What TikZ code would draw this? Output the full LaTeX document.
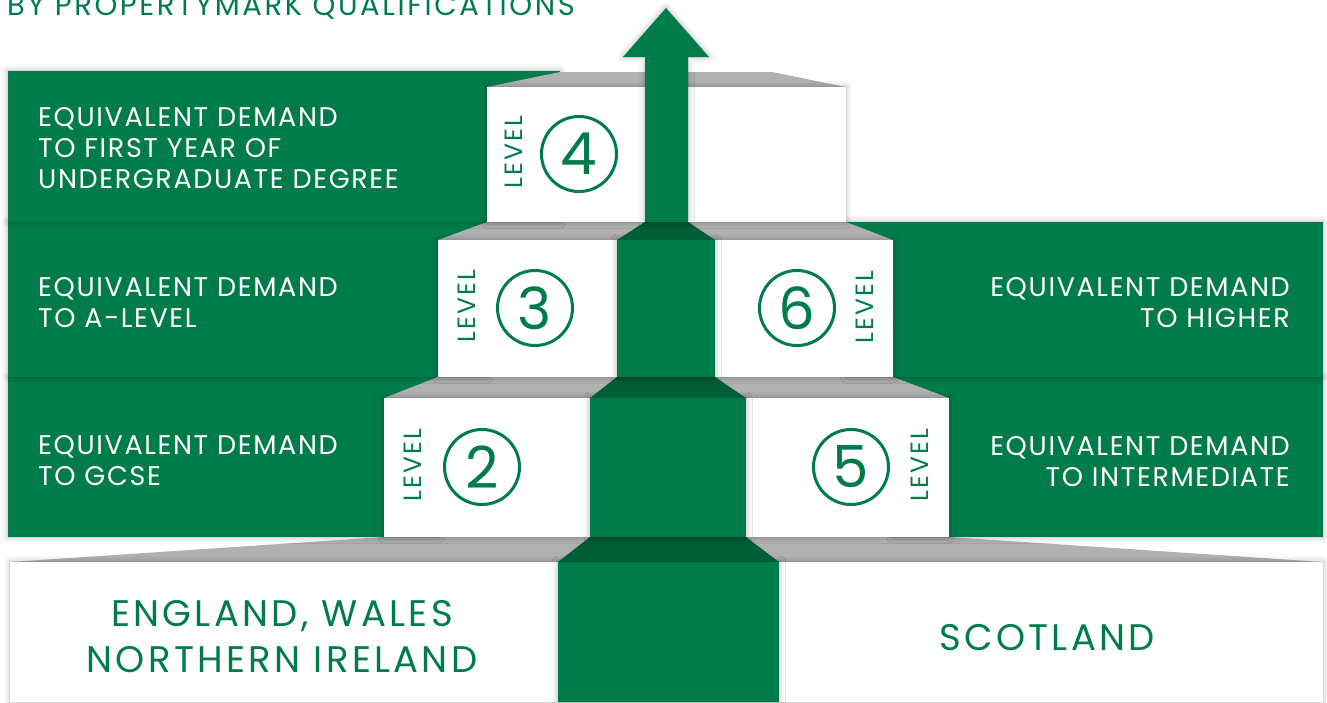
\documentclass[tikz,border=0pt]{standalone}
\usepackage{fontspec}
\setmainfont{Poppins}
\usetikzlibrary{shadows.blur}
\definecolor{pmgreen}{HTML}{007C4B}
\definecolor{pmdark}{HTML}{005E36}
\definecolor{pmgrey}{HTML}{B1B1B1}
\newfontfamily\widefont[LetterSpace=6]{Poppins}
\newfontfamily\widerfont[LetterSpace=9]{Poppins}
\newcommand\descfont{\widefont\fontsize{27}{31}\selectfont}

\begin{document}
\begin{tikzpicture}[x=1pt,y=-1pt,
      soft/.style={blur shadow={shadow xshift=0pt, shadow yshift=0pt,
        shadow blur radius=6pt, shadow opacity=30}},
      panel/.style={fill=pmgreen, soft},
      topface/.style={fill=pmgrey},
      front/.style={fill=white, soft},
      colface/.style={fill=pmdark},
      desc/.style={inner sep=0, text=white, font=\descfont},
      lvl/.style={inner sep=0, rotate=90, text=pmgreen,
        font=\widerfont\fontsize{25}{25}\selectfont},
      num/.style={circle, draw=pmgreen, line width=3pt, minimum size=75pt,
        inner sep=0, text=pmgreen, font=\fontsize{58}{58}\selectfont},
      country/.style={inner sep=0, text=pmgreen, align=center,
        font=\widerfont\fontsize{37}{46}\selectfont}]

    \useasboundingbox (0,0) rectangle (1327,702);
    \clip (0,0) rectangle (1327,702);

    % bottom step
    \fill[topface] (384,537) -- (949,537) -- (1323,562) -- (10,562) -- cycle;
    \fill[front] (10,562) rectangle (1323,702);
    \fill[panel] (558,562) rectangle (779,702);
    \fill[colface] (590,537) -- (746,537) -- (779,562) -- (558,562) -- cycle;

    % level 2 / 5
    \fill[panel] (8,377) rectangle (438,537);
    \fill[panel] (893,377) rectangle (1323,537);
    \fill[topface] (438,377) -- (893,377) -- (949,398) -- (384,398) -- cycle;
    \fill[front] (384,398) rectangle (949,537);
    \fill[panel] (590,398) rectangle (746,537);
    \fill[colface] (617,377) -- (715,377) -- (746,398) -- (590,398) -- cycle;

    % level 3 / 6
    \fill[panel] (8,222) rectangle (487,377);
    \fill[panel] (846,222) rectangle (1323,377);
    \fill[topface] (487,222) -- (846,222) -- (893,240) -- (438,240) -- cycle;
    \fill[front] (438,240) rectangle (893,377);
    \fill[panel] (617,240) rectangle (715,377);
    \fill[colface] (645,222) -- (688,222) -- (715,240) -- (617,240) -- cycle;

    % level 4
    \fill[panel] (8,71) rectangle (560,222);
    \fill[topface] (560,72) -- (772,72) -- (846,87) -- (487,87) -- cycle;
    \fill[front] (487,87) rectangle (846,222);

    % arrow
    \fill[panel] (645,222) -- (645,57) -- (623,57) -- (666,8) -- (709,57)
      -- (688,57) -- (688,222) -- cycle;

    % title
    \node[inner sep=0, anchor=base west, text=pmgreen,
      font=\widerfont\fontsize{29}{29}\selectfont] (title) at (7,15)
      {BY PROPERTYMARK QUALIFICATIONS};

    % levels
    \node[lvl] (lv4) at (514,152) {LEVEL};
    \node[num] (n4) at (579,154) {4};
    \node[lvl] (lv3) at (467,306) {LEVEL};
    \node[num] (n3) at (535,308) {3};
    \node[num] (n6) at (797,308) {6};
    \node[lvl] (lv6) at (865,307) {LEVEL};
    \node[lvl] (lv2) at (413,465) {LEVEL};
    \node[num] (n2) at (482,467) {2};
    \node[num] (n5) at (851,467) {5};
    \node[lvl] (lv5) at (920,465) {LEVEL};

    % descriptions
    \node[desc, anchor=north west, align=left] (d4) at (38,107)
      {EQUIVALENT DEMAND\\TO FIRST YEAR OF\\UNDERGRADUATE DEGREE};
    \node[desc, anchor=north west, align=left] (d3) at (38,277)
      {EQUIVALENT DEMAND\\TO A-LEVEL};
    \node[desc, anchor=north west, align=left] (d2) at (38,435)
      {EQUIVALENT DEMAND\\TO GCSE};
    \node[desc, anchor=north east, align=right] (d6) at (1290,277)
      {EQUIVALENT DEMAND\\TO HIGHER};
    \node[desc, anchor=north east, align=right] (d5) at (1290,436)
      {EQUIVALENT DEMAND\\TO INTERMEDIATE};

    % countries
    \node[country, anchor=north] (ewni) at (282,600)
      {ENGLAND, WALES\\NORTHERN IRELAND};
    \node[country, anchor=base] (scot) at (1047,650) {SCOTLAND};

  \end{tikzpicture}
\end{document}
